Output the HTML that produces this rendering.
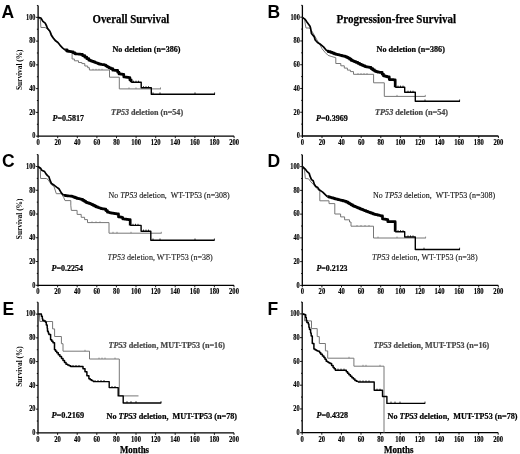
<!DOCTYPE html>
<html><head><meta charset="utf-8"><style>
html,body{margin:0;padding:0;background:#fff;}
svg{display:block;will-change:transform;}
text{font-family:"Liberation Serif",serif;}
.tk{font-size:6.6px;font-weight:bold;stroke:#000;stroke-width:0.15px;}
.lt{font-family:"Liberation Sans",sans-serif;font-weight:bold;font-size:17.5px;}
.ti{font-size:12.4px;font-weight:bold;}
.lb{font-size:8.3px;font-weight:bold;}
.lr{font-size:8.6px;}
.pv{font-size:8.3px;font-weight:bold;}
.yl{font-size:7.2px;font-weight:bold;}
.mo{font-size:9.5px;font-weight:bold;}
</style></head><body>
<svg width="520" height="454" viewBox="0 0 520 454">

<path d="M38.10 5.47V136.15H234.10" fill="none" stroke="#000" stroke-width="1.3"/>
<path d="M35.90 136.15H38.10M36.90 124.27H38.10M35.90 112.39H38.10M36.90 100.51H38.10M35.90 88.63H38.10M36.90 76.75H38.10M35.90 64.87H38.10M36.90 52.99H38.10M35.90 41.11H38.10M36.90 29.23H38.10M35.90 17.35H38.10M36.90 5.47H38.10" stroke="#000" stroke-width="0.9"/>
<path d="M38.10 136.15V138.15M57.70 136.15V138.15M77.30 136.15V138.15M96.90 136.15V138.15M116.50 136.15V138.15M136.10 136.15V138.15M155.70 136.15V138.15M175.30 136.15V138.15M194.90 136.15V138.15M214.50 136.15V138.15M234.10 136.15V138.15" stroke="#000" stroke-width="0.9"/>
<text class="tk" transform="translate(35.50 138.45) scale(0.95 1.1)" text-anchor="end">0</text>
<text class="tk" transform="translate(35.50 114.69) scale(0.95 1.1)" text-anchor="end">20</text>
<text class="tk" transform="translate(35.50 90.93) scale(0.95 1.1)" text-anchor="end">40</text>
<text class="tk" transform="translate(35.50 67.17) scale(0.95 1.1)" text-anchor="end">60</text>
<text class="tk" transform="translate(35.50 43.41) scale(0.95 1.1)" text-anchor="end">80</text>
<text class="tk" transform="translate(35.50 19.65) scale(0.95 1.1)" text-anchor="end">100</text>
<text class="tk" transform="translate(38.10 144.95) scale(1 1.1)" text-anchor="middle">0</text>
<text class="tk" transform="translate(57.70 144.95) scale(1 1.1)" text-anchor="middle">20</text>
<text class="tk" transform="translate(77.30 144.95) scale(1 1.1)" text-anchor="middle">40</text>
<text class="tk" transform="translate(96.90 144.95) scale(1 1.1)" text-anchor="middle">60</text>
<text class="tk" transform="translate(116.50 144.95) scale(1 1.1)" text-anchor="middle">80</text>
<text class="tk" transform="translate(136.10 144.95) scale(1 1.1)" text-anchor="middle">100</text>
<text class="tk" transform="translate(155.70 144.95) scale(1 1.1)" text-anchor="middle">120</text>
<text class="tk" transform="translate(175.30 144.95) scale(1 1.1)" text-anchor="middle">140</text>
<text class="tk" transform="translate(194.90 144.95) scale(1 1.1)" text-anchor="middle">160</text>
<text class="tk" transform="translate(214.50 144.95) scale(1 1.1)" text-anchor="middle">180</text>
<text class="tk" transform="translate(234.10 144.95) scale(1 1.1)" text-anchor="middle">200</text>
<path d="M302.40 5.32V136.00H498.40" fill="none" stroke="#000" stroke-width="1.3"/>
<path d="M300.20 136.00H302.40M301.20 124.12H302.40M300.20 112.24H302.40M301.20 100.36H302.40M300.20 88.48H302.40M301.20 76.60H302.40M300.20 64.72H302.40M301.20 52.84H302.40M300.20 40.96H302.40M301.20 29.08H302.40M300.20 17.20H302.40M301.20 5.32H302.40" stroke="#000" stroke-width="0.9"/>
<path d="M302.40 136.00V138.00M322.00 136.00V138.00M341.60 136.00V138.00M361.20 136.00V138.00M380.80 136.00V138.00M400.40 136.00V138.00M420.00 136.00V138.00M439.60 136.00V138.00M459.20 136.00V138.00M478.80 136.00V138.00M498.40 136.00V138.00" stroke="#000" stroke-width="0.9"/>
<text class="tk" transform="translate(299.80 138.30) scale(0.95 1.1)" text-anchor="end">0</text>
<text class="tk" transform="translate(299.80 114.54) scale(0.95 1.1)" text-anchor="end">20</text>
<text class="tk" transform="translate(299.80 90.78) scale(0.95 1.1)" text-anchor="end">40</text>
<text class="tk" transform="translate(299.80 67.02) scale(0.95 1.1)" text-anchor="end">60</text>
<text class="tk" transform="translate(299.80 43.26) scale(0.95 1.1)" text-anchor="end">80</text>
<text class="tk" transform="translate(299.80 19.50) scale(0.95 1.1)" text-anchor="end">100</text>
<text class="tk" transform="translate(302.40 144.80) scale(1 1.1)" text-anchor="middle">0</text>
<text class="tk" transform="translate(322.00 144.80) scale(1 1.1)" text-anchor="middle">20</text>
<text class="tk" transform="translate(341.60 144.80) scale(1 1.1)" text-anchor="middle">40</text>
<text class="tk" transform="translate(361.20 144.80) scale(1 1.1)" text-anchor="middle">60</text>
<text class="tk" transform="translate(380.80 144.80) scale(1 1.1)" text-anchor="middle">80</text>
<text class="tk" transform="translate(400.40 144.80) scale(1 1.1)" text-anchor="middle">100</text>
<text class="tk" transform="translate(420.00 144.80) scale(1 1.1)" text-anchor="middle">120</text>
<text class="tk" transform="translate(439.60 144.80) scale(1 1.1)" text-anchor="middle">140</text>
<text class="tk" transform="translate(459.20 144.80) scale(1 1.1)" text-anchor="middle">160</text>
<text class="tk" transform="translate(478.80 144.80) scale(1 1.1)" text-anchor="middle">180</text>
<text class="tk" transform="translate(498.40 144.80) scale(1 1.1)" text-anchor="middle">200</text>
<path d="M38.00 154.62V285.30H234.00" fill="none" stroke="#000" stroke-width="1.3"/>
<path d="M35.80 285.30H38.00M36.80 273.42H38.00M35.80 261.54H38.00M36.80 249.66H38.00M35.80 237.78H38.00M36.80 225.90H38.00M35.80 214.02H38.00M36.80 202.14H38.00M35.80 190.26H38.00M36.80 178.38H38.00M35.80 166.50H38.00M36.80 154.62H38.00" stroke="#000" stroke-width="0.9"/>
<path d="M38.00 285.30V287.30M57.60 285.30V287.30M77.20 285.30V287.30M96.80 285.30V287.30M116.40 285.30V287.30M136.00 285.30V287.30M155.60 285.30V287.30M175.20 285.30V287.30M194.80 285.30V287.30M214.40 285.30V287.30M234.00 285.30V287.30" stroke="#000" stroke-width="0.9"/>
<text class="tk" transform="translate(35.40 287.60) scale(0.95 1.1)" text-anchor="end">0</text>
<text class="tk" transform="translate(35.40 263.84) scale(0.95 1.1)" text-anchor="end">20</text>
<text class="tk" transform="translate(35.40 240.08) scale(0.95 1.1)" text-anchor="end">40</text>
<text class="tk" transform="translate(35.40 216.32) scale(0.95 1.1)" text-anchor="end">60</text>
<text class="tk" transform="translate(35.40 192.56) scale(0.95 1.1)" text-anchor="end">80</text>
<text class="tk" transform="translate(35.40 168.80) scale(0.95 1.1)" text-anchor="end">100</text>
<text class="tk" transform="translate(38.00 294.10) scale(1 1.1)" text-anchor="middle">0</text>
<text class="tk" transform="translate(57.60 294.10) scale(1 1.1)" text-anchor="middle">20</text>
<text class="tk" transform="translate(77.20 294.10) scale(1 1.1)" text-anchor="middle">40</text>
<text class="tk" transform="translate(96.80 294.10) scale(1 1.1)" text-anchor="middle">60</text>
<text class="tk" transform="translate(116.40 294.10) scale(1 1.1)" text-anchor="middle">80</text>
<text class="tk" transform="translate(136.00 294.10) scale(1 1.1)" text-anchor="middle">100</text>
<text class="tk" transform="translate(155.60 294.10) scale(1 1.1)" text-anchor="middle">120</text>
<text class="tk" transform="translate(175.20 294.10) scale(1 1.1)" text-anchor="middle">140</text>
<text class="tk" transform="translate(194.80 294.10) scale(1 1.1)" text-anchor="middle">160</text>
<text class="tk" transform="translate(214.40 294.10) scale(1 1.1)" text-anchor="middle">180</text>
<text class="tk" transform="translate(234.00 294.10) scale(1 1.1)" text-anchor="middle">200</text>
<path d="M302.30 154.72V285.40H498.30" fill="none" stroke="#000" stroke-width="1.3"/>
<path d="M300.10 285.40H302.30M301.10 273.52H302.30M300.10 261.64H302.30M301.10 249.76H302.30M300.10 237.88H302.30M301.10 226.00H302.30M300.10 214.12H302.30M301.10 202.24H302.30M300.10 190.36H302.30M301.10 178.48H302.30M300.10 166.60H302.30M301.10 154.72H302.30" stroke="#000" stroke-width="0.9"/>
<path d="M302.30 285.40V287.40M321.90 285.40V287.40M341.50 285.40V287.40M361.10 285.40V287.40M380.70 285.40V287.40M400.30 285.40V287.40M419.90 285.40V287.40M439.50 285.40V287.40M459.10 285.40V287.40M478.70 285.40V287.40M498.30 285.40V287.40" stroke="#000" stroke-width="0.9"/>
<text class="tk" transform="translate(299.70 287.70) scale(0.95 1.1)" text-anchor="end">0</text>
<text class="tk" transform="translate(299.70 263.94) scale(0.95 1.1)" text-anchor="end">20</text>
<text class="tk" transform="translate(299.70 240.18) scale(0.95 1.1)" text-anchor="end">40</text>
<text class="tk" transform="translate(299.70 216.42) scale(0.95 1.1)" text-anchor="end">60</text>
<text class="tk" transform="translate(299.70 192.66) scale(0.95 1.1)" text-anchor="end">80</text>
<text class="tk" transform="translate(299.70 168.90) scale(0.95 1.1)" text-anchor="end">100</text>
<text class="tk" transform="translate(302.30 294.20) scale(1 1.1)" text-anchor="middle">0</text>
<text class="tk" transform="translate(321.90 294.20) scale(1 1.1)" text-anchor="middle">20</text>
<text class="tk" transform="translate(341.50 294.20) scale(1 1.1)" text-anchor="middle">40</text>
<text class="tk" transform="translate(361.10 294.20) scale(1 1.1)" text-anchor="middle">60</text>
<text class="tk" transform="translate(380.70 294.20) scale(1 1.1)" text-anchor="middle">80</text>
<text class="tk" transform="translate(400.30 294.20) scale(1 1.1)" text-anchor="middle">100</text>
<text class="tk" transform="translate(419.90 294.20) scale(1 1.1)" text-anchor="middle">120</text>
<text class="tk" transform="translate(439.50 294.20) scale(1 1.1)" text-anchor="middle">140</text>
<text class="tk" transform="translate(459.10 294.20) scale(1 1.1)" text-anchor="middle">160</text>
<text class="tk" transform="translate(478.70 294.20) scale(1 1.1)" text-anchor="middle">180</text>
<text class="tk" transform="translate(498.30 294.20) scale(1 1.1)" text-anchor="middle">200</text>
<path d="M38.00 302.22V432.90H234.00" fill="none" stroke="#000" stroke-width="1.3"/>
<path d="M35.80 432.90H38.00M36.80 421.02H38.00M35.80 409.14H38.00M36.80 397.26H38.00M35.80 385.38H38.00M36.80 373.50H38.00M35.80 361.62H38.00M36.80 349.74H38.00M35.80 337.86H38.00M36.80 325.98H38.00M35.80 314.10H38.00M36.80 302.22H38.00" stroke="#000" stroke-width="0.9"/>
<path d="M38.00 432.90V434.90M57.60 432.90V434.90M77.20 432.90V434.90M96.80 432.90V434.90M116.40 432.90V434.90M136.00 432.90V434.90M155.60 432.90V434.90M175.20 432.90V434.90M194.80 432.90V434.90M214.40 432.90V434.90M234.00 432.90V434.90" stroke="#000" stroke-width="0.9"/>
<text class="tk" transform="translate(35.40 435.20) scale(0.95 1.1)" text-anchor="end">0</text>
<text class="tk" transform="translate(35.40 411.44) scale(0.95 1.1)" text-anchor="end">20</text>
<text class="tk" transform="translate(35.40 387.68) scale(0.95 1.1)" text-anchor="end">40</text>
<text class="tk" transform="translate(35.40 363.92) scale(0.95 1.1)" text-anchor="end">60</text>
<text class="tk" transform="translate(35.40 340.16) scale(0.95 1.1)" text-anchor="end">80</text>
<text class="tk" transform="translate(35.40 316.40) scale(0.95 1.1)" text-anchor="end">100</text>
<text class="tk" transform="translate(38.00 441.70) scale(1 1.1)" text-anchor="middle">0</text>
<text class="tk" transform="translate(57.60 441.70) scale(1 1.1)" text-anchor="middle">20</text>
<text class="tk" transform="translate(77.20 441.70) scale(1 1.1)" text-anchor="middle">40</text>
<text class="tk" transform="translate(96.80 441.70) scale(1 1.1)" text-anchor="middle">60</text>
<text class="tk" transform="translate(116.40 441.70) scale(1 1.1)" text-anchor="middle">80</text>
<text class="tk" transform="translate(136.00 441.70) scale(1 1.1)" text-anchor="middle">100</text>
<text class="tk" transform="translate(155.60 441.70) scale(1 1.1)" text-anchor="middle">120</text>
<text class="tk" transform="translate(175.20 441.70) scale(1 1.1)" text-anchor="middle">140</text>
<text class="tk" transform="translate(194.80 441.70) scale(1 1.1)" text-anchor="middle">160</text>
<text class="tk" transform="translate(214.40 441.70) scale(1 1.1)" text-anchor="middle">180</text>
<text class="tk" transform="translate(234.00 441.70) scale(1 1.1)" text-anchor="middle">200</text>
<path d="M302.20 302.02V432.70H498.20" fill="none" stroke="#000" stroke-width="1.3"/>
<path d="M300.00 432.70H302.20M301.00 420.82H302.20M300.00 408.94H302.20M301.00 397.06H302.20M300.00 385.18H302.20M301.00 373.30H302.20M300.00 361.42H302.20M301.00 349.54H302.20M300.00 337.66H302.20M301.00 325.78H302.20M300.00 313.90H302.20M301.00 302.02H302.20" stroke="#000" stroke-width="0.9"/>
<path d="M302.20 432.70V434.70M321.80 432.70V434.70M341.40 432.70V434.70M361.00 432.70V434.70M380.60 432.70V434.70M400.20 432.70V434.70M419.80 432.70V434.70M439.40 432.70V434.70M459.00 432.70V434.70M478.60 432.70V434.70M498.20 432.70V434.70" stroke="#000" stroke-width="0.9"/>
<text class="tk" transform="translate(299.60 435.00) scale(0.95 1.1)" text-anchor="end">0</text>
<text class="tk" transform="translate(299.60 411.24) scale(0.95 1.1)" text-anchor="end">20</text>
<text class="tk" transform="translate(299.60 387.48) scale(0.95 1.1)" text-anchor="end">40</text>
<text class="tk" transform="translate(299.60 363.72) scale(0.95 1.1)" text-anchor="end">60</text>
<text class="tk" transform="translate(299.60 339.96) scale(0.95 1.1)" text-anchor="end">80</text>
<text class="tk" transform="translate(299.60 316.20) scale(0.95 1.1)" text-anchor="end">100</text>
<text class="tk" transform="translate(302.20 441.50) scale(1 1.1)" text-anchor="middle">0</text>
<text class="tk" transform="translate(321.80 441.50) scale(1 1.1)" text-anchor="middle">20</text>
<text class="tk" transform="translate(341.40 441.50) scale(1 1.1)" text-anchor="middle">40</text>
<text class="tk" transform="translate(361.00 441.50) scale(1 1.1)" text-anchor="middle">60</text>
<text class="tk" transform="translate(380.60 441.50) scale(1 1.1)" text-anchor="middle">80</text>
<text class="tk" transform="translate(400.20 441.50) scale(1 1.1)" text-anchor="middle">100</text>
<text class="tk" transform="translate(419.80 441.50) scale(1 1.1)" text-anchor="middle">120</text>
<text class="tk" transform="translate(439.40 441.50) scale(1 1.1)" text-anchor="middle">140</text>
<text class="tk" transform="translate(459.00 441.50) scale(1 1.1)" text-anchor="middle">160</text>
<text class="tk" transform="translate(478.60 441.50) scale(1 1.1)" text-anchor="middle">180</text>
<text class="tk" transform="translate(498.20 441.50) scale(1 1.1)" text-anchor="middle">200</text>
<text class="lt" x="1.5" y="18">A</text>
<text class="lt" x="267.5" y="17.5">B</text>
<text class="lt" x="2" y="167">C</text>
<text class="lt" x="267.5" y="167">D</text>
<text class="lt" x="2.5" y="314.5">E</text>
<text class="lt" x="267.5" y="314.5">F</text>
<text class="yl" transform="translate(22.0 69.75) rotate(-90)" text-anchor="middle" textLength="40.6" lengthAdjust="spacingAndGlyphs">Survival (%)</text>
<text class="yl" transform="translate(22.0 218.90) rotate(-90)" text-anchor="middle" textLength="40.6" lengthAdjust="spacingAndGlyphs">Survival (%)</text>
<text class="yl" transform="translate(22.0 366.50) rotate(-90)" text-anchor="middle" textLength="40.6" lengthAdjust="spacingAndGlyphs">Survival (%)</text>
<text id="tA" class="ti" x="92.50" y="22.60" fill="#000" stroke="#000" stroke-width="0.25" textLength="76.89" lengthAdjust="spacingAndGlyphs" style="white-space:pre">Overall Survival</text>
<text id="tB" class="ti" x="336.50" y="22.70" fill="#000" stroke="#000" stroke-width="0.25" textLength="119.51" lengthAdjust="spacingAndGlyphs" style="white-space:pre">Progression-free Survival</text>
<text id="nA" class="lb" x="112.50" y="52.00" fill="#000" stroke="#000" stroke-width="0.22" textLength="67.96" lengthAdjust="spacingAndGlyphs" style="white-space:pre">No deletion (n=386)</text>
<text id="nB" class="lb" x="376.50" y="52.00" fill="#000" stroke="#000" stroke-width="0.22" textLength="68.39" lengthAdjust="spacingAndGlyphs" style="white-space:pre">No deletion (n=386)</text>
<text id="gA" class="lb" x="111.00" y="115.10" fill="#484848" stroke="#484848" stroke-width="0.22" textLength="72.11" lengthAdjust="spacingAndGlyphs" style="white-space:pre"><tspan font-style="italic">TP53</tspan> deletion (n=54)</text>
<text id="gB" class="lb" x="375.00" y="115.10" fill="#484848" stroke="#484848" stroke-width="0.22" textLength="73.11" lengthAdjust="spacingAndGlyphs" style="white-space:pre"><tspan font-style="italic">TP53</tspan> deletion (n=54)</text>
<text id="pA" class="pv" x="52.50" y="121.30" fill="#000" stroke="#000" stroke-width="0.22" textLength="31.45" lengthAdjust="spacingAndGlyphs" style="white-space:pre"><tspan font-style="italic">P</tspan>=0.5817</text>
<text id="pB" class="pv" x="316.00" y="121.10" fill="#000" stroke="#000" stroke-width="0.22" textLength="31.84" lengthAdjust="spacingAndGlyphs" style="white-space:pre"><tspan font-style="italic">P</tspan>=0.3969</text>
<text id="nC" class="lr" x="108.50" y="198.30" fill="#111" stroke="#111" stroke-width="0.12" textLength="121.15" lengthAdjust="spacingAndGlyphs" style="white-space:pre">No <tspan font-style="italic">TP53</tspan> deletion,  WT-TP53 (n=308)</text>
<text id="nD" class="lr" x="373.00" y="198.40" fill="#111" stroke="#111" stroke-width="0.12" textLength="122.08" lengthAdjust="spacingAndGlyphs" style="white-space:pre">No <tspan font-style="italic">TP53</tspan> deletion,  WT-TP53 (n=308)</text>
<text id="gC" class="lr" x="107.50" y="259.50" fill="#222" stroke="#222" stroke-width="0.12" textLength="105.26" lengthAdjust="spacingAndGlyphs" style="white-space:pre"><tspan font-style="italic">TP53</tspan> deletion, WT-TP53 (n=38)</text>
<text id="gD" class="lr" x="372.00" y="259.50" fill="#222" stroke="#222" stroke-width="0.12" textLength="105.59" lengthAdjust="spacingAndGlyphs" style="white-space:pre"><tspan font-style="italic">TP53</tspan> deletion, WT-TP53 (n=38)</text>
<text id="pC" class="pv" x="51.50" y="270.50" fill="#000" stroke="#000" stroke-width="0.22" textLength="31.51" lengthAdjust="spacingAndGlyphs" style="white-space:pre"><tspan font-style="italic">P</tspan>=0.2254</text>
<text id="pD" class="pv" x="316.50" y="270.50" fill="#000" stroke="#000" stroke-width="0.22" textLength="31.06" lengthAdjust="spacingAndGlyphs" style="white-space:pre"><tspan font-style="italic">P</tspan>=0.2123</text>
<text id="gE" class="lb" x="108.50" y="347.60" fill="#484848" stroke="#484848" stroke-width="0.22" textLength="116.52" lengthAdjust="spacingAndGlyphs" style="white-space:pre"><tspan font-style="italic">TP53</tspan> deletion, MUT-TP53 (n=16)</text>
<text id="gF" class="lb" x="373.50" y="347.80" fill="#484848" stroke="#484848" stroke-width="0.22" textLength="115.71" lengthAdjust="spacingAndGlyphs" style="white-space:pre"><tspan font-style="italic">TP53</tspan> deletion, MUT-TP53 (n=16)</text>
<text id="nE" class="lb" x="106.50" y="418.60" fill="#000" stroke="#000" stroke-width="0.22" textLength="130.61" lengthAdjust="spacingAndGlyphs" style="white-space:pre">No <tspan font-style="italic">TP53</tspan> deletion,  MUT-TP53 (n=78)</text>
<text id="nF" class="lb" x="387.50" y="418.80" fill="#000" stroke="#000" stroke-width="0.22" textLength="130.01" lengthAdjust="spacingAndGlyphs" style="white-space:pre">No <tspan font-style="italic">TP53</tspan> deletion,  MUT-TP53 (n=78)</text>
<text id="pE" class="pv" x="51.50" y="418.00" fill="#000" stroke="#000" stroke-width="0.22" textLength="32.70" lengthAdjust="spacingAndGlyphs" style="white-space:pre"><tspan font-style="italic">P</tspan>=0.2169</text>
<text id="pF" class="pv" x="316.50" y="418.00" fill="#000" stroke="#000" stroke-width="0.22" textLength="31.64" lengthAdjust="spacingAndGlyphs" style="white-space:pre"><tspan font-style="italic">P</tspan>=0.4328</text>
<text id="mE" class="mo" x="120.00" y="452.50" fill="#000" stroke="#000" stroke-width="0.25" textLength="29.07" lengthAdjust="spacingAndGlyphs" style="white-space:pre">Months</text>
<text id="mF" class="mo" x="384.00" y="452.50" fill="#000" stroke="#000" stroke-width="0.25" textLength="29.47" lengthAdjust="spacingAndGlyphs" style="white-space:pre">Months</text>
<polyline points="38.1,17.4 40.3,19.0 40.9,27.5 45.2,27.5 47.8,29.5 50.8,32.5 52.4,36.0 54.3,38.8 56.5,41.5 59.0,43.6 61.0,46.2 63.8,49.0 66.0,51.8 72.1,51.5 72.1,59.0 74.4,59.0 74.4,60.8 78.5,60.8 78.5,62.5 81.9,62.5 81.9,63.6 84.8,63.6 84.8,66.0 87.7,66.0 87.7,67.7 89.4,67.7 89.4,70.0 109.5,70.0 109.5,77.2 119.3,77.2 119.3,88.9 161.0,88.9" fill="none" stroke="#777" stroke-width="1.0" stroke-linejoin="round"/>
<polyline points="38.1,17.4 40.9,18.0 42.9,21.4 45.2,23.2 46.6,26.0 47.3,28.0 49.9,31.3 51.3,35.2 53.2,37.9 55.2,40.5 57.9,42.5 59.9,45.1 62.5,47.8 65.1,49.8" fill="none" stroke="#000" stroke-width="1.7" stroke-linejoin="round"/>
<polyline points="65.1,49.8 67.1,49.8 67.1,51.1 68.6,51.1 68.6,51.4 70.0,51.4 70.0,51.6 71.5,51.6 71.5,51.9 73.2,51.9 73.2,52.8 75.0,52.8 75.0,53.8 76.7,53.8 76.7,54.0 78.5,54.0 78.5,54.2 80.2,54.2 80.2,54.4 82.5,54.4 82.5,55.6 84.8,55.6 84.8,57.2 86.8,57.2 86.8,58.7 88.8,58.7 88.8,60.2 90.4,60.2 90.4,60.8 91.9,60.8 91.9,61.3 93.5,61.3 93.5,61.9 94.9,61.9 94.9,62.5 96.3,62.5 96.3,63.0 97.8,63.0 97.8,63.6 99.2,63.6 99.2,64.2 100.9,64.2 100.9,64.5 102.5,64.5 102.5,64.7 104.2,64.7 104.2,65.0 105.8,65.0 105.8,66.0 107.4,66.0 107.4,67.0 109.0,67.0 109.0,67.8 110.6,67.8 110.6,68.6 112.7,68.6 112.7,70.2 114.6,70.2 114.6,70.3 116.4,70.3 116.4,70.4 117.7,70.4 117.7,72.2 119.0,72.2 119.0,73.9 120.6,73.9 120.6,74.2 122.2,74.2 122.2,74.4 123.8,74.4 123.8,77.0 125.4,77.0 125.4,77.2 127.0,77.2 127.0,77.4 128.6,77.4 128.6,77.6 129.9,77.6 129.9,79.9 131.2,79.9 131.2,82.3" fill="none" stroke="#000" stroke-width="2.7" stroke-linejoin="round"/>
<polyline points="131.2,82.3 141.2,82.3 141.2,87.8 151.3,87.8 151.3,94.2 215.0,94.2" fill="none" stroke="#000" stroke-width="1.4" stroke-linejoin="round"/>
<polyline points="302.4,17.4 304.5,19.0 305.4,24.9 306.0,28.0 309.5,28.0 311.5,30.6 313.0,33.0 315.0,36.5 317.0,40.0 320.0,44.8 322.0,48.7 325.0,52.3 328.1,55.4 331.9,56.6 335.8,57.7 335.8,63.5 340.8,63.5 340.8,65.8 344.3,65.8 344.3,68.1 347.4,68.1 347.4,70.1 350.4,70.1 350.4,71.6 353.5,71.6 353.5,74.3 373.6,74.3 373.6,82.8 384.3,82.8 384.3,96.4 425.5,96.4" fill="none" stroke="#777" stroke-width="1.0" stroke-linejoin="round"/>
<polyline points="302.4,17.4 305.2,19.4 306.9,22.0 310.0,26.3 310.6,28.3 311.5,33.5 314.3,36.9 315.2,40.0 317.5,42.5 320.0,44.0 323.5,46.9 326.9,51.0" fill="none" stroke="#000" stroke-width="1.7" stroke-linejoin="round"/>
<polyline points="326.9,51.0 328.1,51.0 328.1,51.6 330.4,51.6 330.4,52.3 332.4,52.3 332.4,53.1 334.3,53.1 334.3,53.9 335.8,53.9 335.8,54.3 337.4,54.3 337.4,54.6 338.9,54.6 338.9,55.0 340.4,55.0 340.4,55.4 341.9,55.4 341.9,55.8 343.5,55.8 343.5,56.2 345.0,56.2 345.0,56.6 346.6,56.6 346.6,57.4 348.1,57.4 348.1,58.1 349.6,58.1 349.6,59.2 351.2,59.2 351.2,60.4 352.7,60.4 352.7,61.0 354.3,61.0 354.3,61.7 355.8,61.7 355.8,62.3 357.8,62.3 357.8,63.3 359.7,63.3 359.7,64.3 361.5,64.3 361.5,65.1 363.2,65.1 363.2,65.8 365.0,65.8 365.0,66.6 366.4,66.6 366.4,66.9 367.8,66.9 367.8,67.1 369.2,67.1 369.2,67.4 371.0,67.4 371.0,68.6 372.7,68.6 372.7,69.9 374.5,69.9 374.5,71.1 376.1,71.1 376.1,71.7 377.7,71.7 377.7,72.2 379.3,72.2 379.3,72.3 380.9,72.3 380.9,72.4 382.2,72.4 382.2,74.2 383.5,74.2 383.5,75.9 385.4,75.9 385.4,76.4 387.2,76.4 387.2,76.9 389.3,76.9 389.3,79.6 390.7,79.6 390.7,79.7 392.2,79.7 392.2,79.7 393.6,79.7 393.6,79.8 395.2,79.8 395.2,87.2" fill="none" stroke="#000" stroke-width="2.7" stroke-linejoin="round"/>
<polyline points="395.2,87.2 404.7,87.2 404.7,92.3 415.3,92.3 415.3,101.3 460.0,101.3" fill="none" stroke="#000" stroke-width="1.4" stroke-linejoin="round"/>
<polyline points="38.0,166.5 40.3,169.5 40.6,178.5 46.3,178.5 48.0,179.5 51.4,184.7 54.0,186.5 56.3,193.7 61.5,193.7 63.8,197.7 65.0,200.6 70.8,200.6 70.8,205.2 71.3,210.4 77.1,210.4 77.1,214.4 81.2,214.4 81.2,217.3 84.6,217.3 84.6,219.6 87.5,219.6 87.5,222.6 109.0,222.6 109.0,233.2 161.6,233.2" fill="none" stroke="#777" stroke-width="1.0" stroke-linejoin="round"/>
<polyline points="38.0,166.5 40.6,168.2 41.7,170.2 44.6,171.6 46.0,173.9 47.5,175.6 48.9,176.7 50.0,180.2 51.5,183.6 54.3,185.3 56.6,187.1 58.9,188.8 61.5,193.1 63.8,195.4" fill="none" stroke="#000" stroke-width="1.7" stroke-linejoin="round"/>
<polyline points="63.8,195.4 65.4,195.4 65.4,195.6 66.9,195.6 66.9,195.8 68.5,195.8 68.5,196.0 70.2,196.0 70.2,196.2 71.9,196.2 71.9,196.5 73.4,196.5 73.4,197.1 75.0,197.1 75.0,197.7 76.5,197.7 76.5,198.3 78.1,198.3 78.1,198.7 79.6,198.7 79.6,199.0 81.2,199.0 81.2,199.4 82.7,199.4 82.7,200.4 84.3,200.4 84.3,201.3 85.8,201.3 85.8,202.3 87.3,202.3 87.3,202.9 88.9,202.9 88.9,203.4 90.4,203.4 90.4,204.0 91.8,204.0 91.8,204.7 93.2,204.7 93.2,205.4 94.7,205.4 94.7,206.2 96.1,206.2 96.1,206.9 97.7,206.9 97.7,207.5 99.2,207.5 99.2,208.0 100.8,208.0 100.8,208.6 102.5,208.6 102.5,208.8 104.2,208.8 104.2,209.1 105.8,209.1 105.8,210.6 107.4,210.6 107.4,212.2 108.8,212.2 108.8,212.5 110.2,212.5 110.2,212.9 111.6,212.9 111.6,213.2 113.2,213.2 113.2,213.4 114.8,213.4 114.8,213.7 116.4,213.7 116.4,213.9 118.5,213.9 118.5,216.9 120.1,216.9 120.1,217.2 121.7,217.2 121.7,217.5 122.8,217.5 122.8,219.0 124.5,219.0 124.5,219.2 126.3,219.2 126.3,219.4 128.0,219.4 128.0,219.6 130.2,219.6 130.2,225.4" fill="none" stroke="#000" stroke-width="2.7" stroke-linejoin="round"/>
<polyline points="130.2,225.4 141.1,225.4 141.1,231.2 150.8,231.2 150.8,240.3 214.6,240.3" fill="none" stroke="#000" stroke-width="1.4" stroke-linejoin="round"/>
<polyline points="302.3,166.4 304.5,170.0 305.3,178.5 308.6,178.8 310.9,181.9 313.5,184.6 318.7,190.4 319.8,190.4 319.8,200.8 329.0,200.8 329.0,203.6 334.8,203.6 334.8,214.0 340.6,214.0 340.6,216.9 344.6,216.9 344.6,219.8 349.5,219.8 349.5,222.0 351.0,222.0 351.0,226.2 373.5,226.2 373.5,238.0 425.9,238.0" fill="none" stroke="#777" stroke-width="1.0" stroke-linejoin="round"/>
<polyline points="302.3,166.4 305.2,169.1 306.9,171.3 309.2,173.3 310.0,176.2 311.5,179.6 313.2,180.8 314.3,184.2 315.8,186.5 317.8,187.6 319.2,189.8 322.7,192.1 327.3,196.7" fill="none" stroke="#000" stroke-width="1.7" stroke-linejoin="round"/>
<polyline points="327.3,196.7 328.8,196.7 328.8,197.1 330.4,197.1 330.4,197.5 331.9,197.5 331.9,197.9 333.3,197.9 333.3,198.3 334.8,198.3 334.8,198.8 336.2,198.8 336.2,199.2 337.7,199.2 337.7,199.6 339.4,199.6 339.4,200.0 341.1,200.0 341.1,200.4 342.9,200.4 342.9,200.9 344.6,200.9 344.6,201.3 346.4,201.3 346.4,202.2 348.1,202.2 348.1,203.1 349.6,203.1 349.6,204.0 351.2,204.0 351.2,204.9 352.7,204.9 352.7,205.8 354.1,205.8 354.1,206.4 355.5,206.4 355.5,207.0 357.0,207.0 357.0,207.6 358.4,207.6 358.4,208.2 359.8,208.2 359.8,208.8 361.3,208.8 361.3,209.4 362.8,209.4 362.8,210.0 364.2,210.0 364.2,210.6 366.0,210.6 366.0,211.3 367.8,211.3 367.8,212.0 369.6,212.0 369.6,212.7 371.1,212.7 371.1,213.2 372.7,213.2 372.7,213.8 374.2,213.8 374.2,214.3 375.9,214.3 375.9,214.7 377.5,214.7 377.5,215.1 379.2,215.1 379.2,215.5 380.9,215.5 380.9,215.9 382.5,215.9 382.5,219.0 383.9,219.0 383.9,219.2 385.3,219.2 385.3,219.4 386.7,219.4 386.7,219.6 387.8,219.6 387.8,221.7 389.5,221.7 389.5,221.7 391.3,221.7 391.3,221.7 393.0,221.7 393.0,221.7 395.2,221.7 395.2,231.7" fill="none" stroke="#000" stroke-width="2.7" stroke-linejoin="round"/>
<polyline points="395.2,231.7 404.7,231.7 404.7,237.0 415.3,237.0 415.3,249.5 460.0,249.5" fill="none" stroke="#000" stroke-width="1.4" stroke-linejoin="round"/>
<polyline points="38.0,314.1 39.4,314.1 39.9,321.5 52.6,321.5 52.6,328.9 54.6,328.9 54.6,336.5 61.4,336.5 61.4,343.7 63.0,343.7 63.0,351.2 89.5,351.2 89.5,359.0 119.3,359.0 119.3,395.9 138.5,395.9" fill="none" stroke="#777" stroke-width="1.0" stroke-linejoin="round"/>
<polyline points="38.0,314.1 39.5,314.1 39.5,314.1 40.9,314.1 40.9,314.1 41.4,314.1 41.4,316.3 42.3,316.3 42.3,318.6 42.6,318.6 42.6,320.3 44.0,320.3 44.0,320.9 45.5,320.9 45.5,322.3 46.3,322.3 46.3,324.9 47.2,324.9 47.2,328.3 47.5,328.3 47.5,331.2 48.3,331.2 48.3,332.9 48.9,332.9 48.9,334.6 50.6,334.6 50.6,339.7 51.8,339.7 51.8,341.2 53.0,341.2 53.0,342.8 54.5,342.8 54.5,349.7 55.6,349.7 55.6,351.2 56.8,351.2 56.8,352.8 58.3,352.8 58.3,354.7 59.9,354.7 59.9,356.6 61.5,356.6 61.5,358.6 63.0,358.6 63.0,360.5 64.5,360.5 64.5,362.4 66.0,362.4 66.0,364.3 67.6,364.3 67.6,365.1 69.1,365.1 69.1,365.8 70.7,365.8 70.7,366.6 72.2,366.6 72.2,366.6 73.8,366.6 73.8,366.6 75.3,366.6 75.3,366.6 76.9,366.6 76.9,366.6 78.4,366.6 78.4,366.6 80.0,366.6 80.0,366.6 81.5,366.6 81.5,366.6 83.0,366.6 83.0,368.7 85.0,368.7 85.0,371.7 86.9,371.7 86.9,375.7 88.9,375.7 88.9,378.7 90.2,378.7 90.2,379.7 91.6,379.7 91.6,380.6 92.9,380.6 92.9,381.6" fill="none" stroke="#000" stroke-width="1.5" stroke-linejoin="round"/>
<polyline points="92.9,381.6 109.2,381.6 109.2,387.6 118.2,387.6 118.2,395.9 123.2,395.9 123.2,403.0 161.3,403.0" fill="none" stroke="#000" stroke-width="1.4" stroke-linejoin="round"/>
<polyline points="302.2,313.9 304.6,313.9 304.6,320.9 311.5,320.9 311.5,328.6 317.2,328.6 317.2,336.6 319.3,336.6 319.3,343.5 325.4,343.5 325.4,350.9 327.7,350.9 327.7,358.2 353.9,358.2 353.9,366.2 384.0,366.2 384.0,432.7" fill="none" stroke="#777" stroke-width="1.0" stroke-linejoin="round"/>
<polyline points="302.2,313.9 303.7,313.9 303.7,314.4 305.2,314.4 305.2,314.8 305.7,314.8 305.7,317.4 306.3,317.4 306.3,320.3 306.9,320.3 306.9,322.6 308.3,322.6 308.3,324.0 308.9,324.0 308.9,327.2 309.5,327.2 309.5,329.5 310.6,329.5 310.6,332.9 311.2,332.9 311.2,336.0 312.3,336.0 312.3,343.5 313.9,343.5 313.9,348.9 315.0,348.9 315.0,349.7 316.2,349.7 316.2,350.5 317.4,350.5 317.4,350.9 318.5,350.9 318.5,351.2 319.6,351.2 319.6,352.8 320.8,352.8 320.8,354.3 322.4,354.3 322.4,355.9 323.9,355.9 323.9,357.4 325.0,357.4 325.0,359.3 326.2,359.3 326.2,361.2 327.5,361.2 327.5,362.0 328.7,362.0 328.7,362.8 330.0,362.8 330.0,363.6 331.6,363.6 331.6,365.5 333.1,365.5 333.1,367.4 334.2,367.4 334.2,368.8 335.4,368.8 335.4,370.2 337.0,370.2 337.0,370.2 338.6,370.2 338.6,370.2 340.2,370.2 340.2,370.2 341.8,370.2 341.8,370.2 343.4,370.2 343.4,370.2 345.0,370.2 345.0,370.2 346.3,370.2 346.3,371.7 347.6,371.7 347.6,373.2 348.9,373.2 348.9,374.7 350.4,374.7 350.4,376.2 351.9,376.2 351.9,377.7 353.4,377.7 353.4,379.1 354.9,379.1 354.9,380.6 356.4,380.6 356.4,381.3 357.8,381.3 357.8,382.0" fill="none" stroke="#000" stroke-width="1.5" stroke-linejoin="round"/>
<polyline points="357.8,382.0 374.2,382.0 374.2,390.3 382.5,390.3 382.5,396.5 386.9,396.5 386.9,403.4 425.2,403.4" fill="none" stroke="#000" stroke-width="1.4" stroke-linejoin="round"/>
<path d="M129.0 88.9v-1.5M136.0 88.9v-1.5M160.5 88.9v-1.5M93.0 70.0v-1.2M96.0 70.0v-1.2M99.0 70.0v-1.2M102.0 70.0v-1.2M358.0 74.3v-1.2M361.0 74.3v-1.2M364.0 74.3v-1.2M367.0 74.3v-1.2M397.0 96.4v-1.5M425.3 96.4v-1.5M92.0 222.6v-1.2M96.0 222.6v-1.2M100.0 222.6v-1.2M113.0 233.2v-1.4M117.0 233.2v-1.4M131.0 233.2v-1.4M161.3 233.2v-1.4M357.0 226.2v-1.2M361.0 226.2v-1.2M365.0 226.2v-1.2M369.0 226.2v-1.2M378.0 238.0v-1.4M397.0 238.0v-1.4M425.6 238.0v-1.4M85.0 351.2v-1.4M99.0 359.0v-1.4M102.0 359.0v-1.4M105.0 359.0v-1.4M115.0 359.0v-1.4M349.0 358.2v-1.4M363.0 366.2v-1.4M366.0 366.2v-1.4M380.0 366.2v-1.4" stroke="#777" stroke-width="0.8" fill="none"/>
<path d="M133.5 82.3v-1.6M136.0 82.3v-1.6M138.5 82.3v-1.6M143.5 87.8v-1.6M146.0 87.8v-1.6M148.5 87.8v-1.6M153.0 94.2v-1.8M160.0 94.2v-1.8M195.0 94.2v-1.8M214.6 94.2v-1.8M398.0 87.2v-1.6M400.5 87.2v-1.6M403.0 87.2v-1.6M408.0 92.3v-1.6M410.5 92.3v-1.6M413.0 92.3v-1.6M425.0 101.3v-1.8M459.6 101.3v-1.8M133.0 225.4v-1.6M135.5 225.4v-1.6M138.0 225.4v-1.6M143.5 231.2v-1.6M146.0 231.2v-1.6M148.5 231.2v-1.6M153.0 240.3v-1.8M160.0 240.3v-1.8M195.0 240.3v-1.8M214.4 240.3v-1.8M398.0 231.7v-1.6M400.5 231.7v-1.6M403.0 231.7v-1.6M408.0 237.0v-1.6M410.5 237.0v-1.6M413.0 237.0v-1.6M424.0 249.5v-1.8M459.6 249.5v-1.8M73.0 366.6v-1.6M76.0 366.6v-1.6M79.0 366.6v-1.6M95.0 381.6v-1.6M98.0 381.6v-1.6M101.0 381.6v-1.6M104.0 381.6v-1.6M112.0 387.6v-1.6M115.0 387.6v-1.6M127.0 403.0v-1.8M131.0 403.0v-1.8M136.0 403.0v-1.8M161.0 403.0v-1.8M338.0 370.2v-1.6M341.0 370.2v-1.6M344.0 370.2v-1.6M360.0 382.0v-1.6M363.0 382.0v-1.6M366.0 382.0v-1.6M369.0 382.0v-1.6M377.0 390.3v-1.6M380.0 390.3v-1.6M391.0 403.4v-1.8M395.0 403.4v-1.8M400.0 403.4v-1.8M425.0 403.4v-1.8" stroke="#000" stroke-width="0.8" fill="none"/>
</svg>
</body></html>
